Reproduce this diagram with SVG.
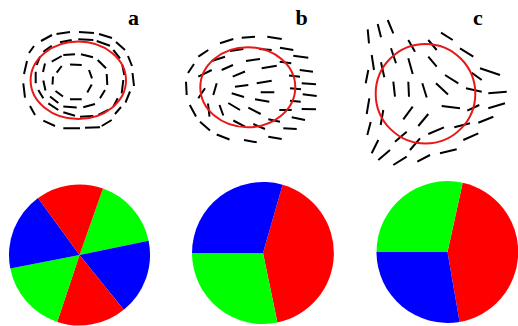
<svg xmlns="http://www.w3.org/2000/svg" width="518" height="326" viewBox="0 0 518 326">
<style>
.d{stroke:#000;stroke-width:2;fill:none;stroke-linecap:butt}
.rc{stroke:#e81818;stroke-width:2;fill:none}
.lb{font-family:"Liberation Serif","Times New Roman",serif;font-weight:bold;font-size:22px;fill:#000}
.R{fill:#ff0000}.G{fill:#00ff00}.B{fill:#0000ff}
</style>
<rect width="518" height="326" fill="#fff"/>
<g id="panel-a">
<g class="d">
<path d="M56.5 34L70 32M79 32L94 33M99 34L112 38M116 42L125 50M128 56L132 66M132.5 73L134 86M130 91.5L125.5 102.5M121 107L115 114M111.7 120L101.7 126M100 127.3L85 127.7M80 128.3L63.3 128.3M55 126L43.3 120.7M35 115L30 106M25 97.7L23.3 83.3M24 74L27 61M29 53L34 46M41 41L52 35"/>
<path d="M60 42.3L71.7 40M78.3 39.3L93.3 40M96.7 41L110 45.7M113.3 50L120 58.3M122.3 65L124.3 75M123.3 80L121.7 93.3M117.7 98.3L113.3 106.7M108.3 110L98.3 115M93.3 116L80 116.7M75 115.7L63.3 112.3M58.3 110L48.3 103.3M43.3 98.3L38.3 90M35.7 83.3L35.7 71.7M36.7 65L40 56.7M43.3 51.7L51.7 45.7"/>
<path d="M51.7 61.7L61.7 56M63.3 55L75 54.3M81 54.3L93 57.3M97.7 60L106 68.3M106.7 74L107.3 85M105 90L100 98.3M95 104L83.3 107.3M76.7 107.5L63.3 106.5M58.3 103L50 96.5M45.5 90.5L43.3 80.5M43 72L45 63.5"/>
<path d="M56.7 72.7L61.7 66M70 64.5L81.7 65M89 70L92 78.3M91.7 84.5L87.3 92.5M81.7 99.3L70 99.3M63 96.5L55.5 91M52.5 84.5L53 76.5"/>
</g>
<ellipse class="rc" cx="78.3" cy="80.3" rx="47.7" ry="38.7"/>
<text class="lb" x="128" y="25">a</text>
</g>
<g id="panel-b">
<g class="d">
<path d="M241.7 37.7L255 36.7M267.3 36.7L281.7 39M220 43.3L233.3 39M198.3 56.7L208.3 50M230 51L243.3 49M259.3 49L271.7 50M280 47.7L293.3 50M293.3 55.7L308.3 57.7M211.7 61L225 56.7M246 61L260 59M188 73L194 64M221.7 70L233 65M261.7 68.3L276.7 65.7M279.7 61.7L291.3 63.3M299.7 70L313 71.7M289 75.5L300 76.7M232.7 76.7L245 71.5M198.3 76.7L211.7 70"/>
<path d="M216.7 83.3L213.3 95M198.3 98.3L205 88.3M235 86.7L248.3 85M256.7 83.3L271.7 80.7M186 81.7L186.7 95M301.7 83.3L316 84.3M290 88.3L301 89.3M302.7 94.3L316.7 96M231.7 93.3L244 97M260.7 92.3L274.3 92.3M255 99.3L269.3 101.7M290 100.7L300.7 101.7M301.7 109L316 109.3"/>
<path d="M228.3 103L240 110M219.5 105L223.3 115.5M208 103.5L209.5 116.7M189.8 105L196 116.5M248.3 107.7L260.7 114M279.3 110L291.7 110M233.3 120.5L245 126.7M253.3 124L265 129M268.3 119.3L280 121.7M291.7 117.3L305 120M283.3 128.3L296.7 129M200 121.7L210 130.5M216.7 134.5L229.5 139.5M244 140L256.7 142.3M268.3 136.7L281.7 139"/>
</g>
<ellipse class="rc" cx="247.8" cy="87.3" rx="47.5" ry="40"/>
<text class="lb" x="295.5" y="25">b</text>
</g>
<g id="panel-c">
<g class="d">
<path d="M367.7 29.3L369 43.3M377.7 24L381 37.3M387.7 20L393.3 33.3M441 32.7L452.7 40M408.3 40L415 51.7M428.3 40L436.7 50M391 48.3L396 63.3M460 48.3L473.3 56.7M371.7 55L374 70M381 62.3L384.3 77.3M408.3 58.3L412.7 74M428.3 56.7L436.7 66.7M480 68.3L500 75M368.3 70L365.7 83.3"/>
<path d="M445 75L458.3 83.3M471.7 72.7L481.7 80M393.3 81.7L395 96.7M408.3 81.7L409 96.7M422.3 83.3L426.7 97.5M436 83.3L448 94.5M466 88.3L481.7 91.7M488.3 93.3L506.7 91.7M369.3 98.3L366.7 114M441.7 106L460 108.3M467.3 110.7L479.3 105M488.3 108.3L505 103.3M383.3 110L380.7 125M412.7 106.7L403.3 119.3"/>
<path d="M428.3 114L418.3 126M478.3 122.7L493.3 116.7M454.3 127.3L470 123.3M370.7 122L367.3 135M428.3 134L444 127.3M395 141.7L406.7 131.7M420 138.3L410 150M463.3 140L478.3 133.3M371.7 153.3L378.3 140M378.3 160L390 150M393.3 165L406.7 156.7M417.3 161.7L430 155M440 153.3L456.7 149.3"/>
</g>
<circle class="rc" cx="425.5" cy="93.7" r="49.8"/>
<text class="lb" x="473" y="25">c</text>
</g>
<g id="pie-a">
<path class="G" d="M79.5 255L103 188.5A70.5 70.5 0 0 1 148.6 240.8Z"/>
<path class="B" d="M79.5 255L148.6 240.8A70.5 70.5 0 0 1 123.8 309.8Z"/>
<path class="R" d="M79.5 255L123.8 309.8A70.5 70.5 0 0 1 57.2 321.9Z"/>
<path class="G" d="M79.5 255L57.2 321.9A70.5 70.5 0 0 1 10.3 268.6Z"/>
<path class="B" d="M79.5 255L10.3 268.6A70.5 70.5 0 0 1 38 198Z"/>
<path class="R" d="M79.5 255L38 198A70.5 70.5 0 0 1 103 188.5Z"/>
</g>
<g id="pie-b">
<path class="R" d="M263 253L282.6 184.8A71 71 0 0 1 277.4 322.5Z"/>
<path class="G" d="M263 253L277.4 322.5A71 71 0 0 1 192 253Z"/>
<path class="B" d="M263 253L192 253A71 71 0 0 1 282.6 184.8Z"/>
</g>
<g id="pie-c">
<path class="R" d="M447.5 252L462.7 182.7A71 71 0 0 1 459.6 321.9Z"/>
<path class="B" d="M447.5 252L459.6 321.9A71 71 0 0 1 376.5 252Z"/>
<path class="G" d="M447.5 252L376.5 252A71 71 0 0 1 462.7 182.7Z"/>
</g>
</svg>
